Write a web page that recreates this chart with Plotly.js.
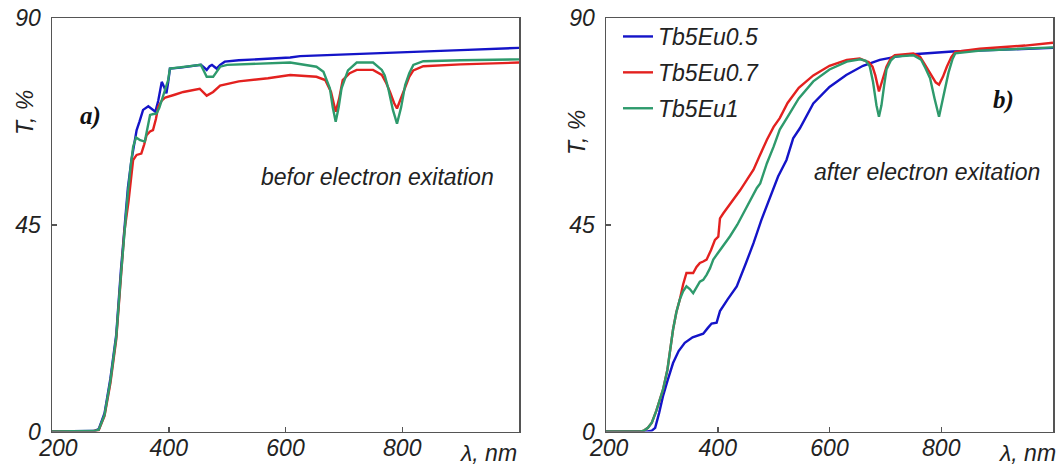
<!DOCTYPE html>
<html>
<head>
<meta charset="utf-8">
<script src="https://cdn.plot.ly/plotly-3.0.1.min.js"></script>
<style>html,body{margin:0;padding:0;background:#fff;}#chart{width:1059px;height:466px;}</style>
</head>
<body>
<div id="chart"></div>
<script>
// ---------- Data ----------
var seriesNames = ["Tb5Eu0.5", "Tb5Eu0.7", "Tb5Eu1"];
var xTicks = [200, 400, 600, 800];
var yTicks = [0, 45, 90];

// Panel a) before electron excitation
var aBlueX = [200,265,272,280,290,300,310,318,324,330,336,341,345,350,356,365,372,377,382,388,392,396,399,402,420,440,455,460,465,470,474,478,482,488,496,520,560,608,625,700,800,900,1000];
var aBlueY = [0,0,0.1,0.5,4,11.5,21,35,45,53,59,63,65.6,67.5,70,70.8,70.2,69.6,72,76.1,75,73.6,76,79,79.2,79.5,79.8,79.3,78.7,79.5,79.8,79.4,79,79.8,80.5,80.8,81.1,81.4,81.7,82.1,82.5,83,83.5];

var aRedX = [200,265,272,280,290,300,310,318,324,331,335,339,345,353,358,362,368,373,378,382,388,394,410,425,453,460,465,476,482,488,520,570,608,653,668,678,686,692,698,710,722,750,765,772,779,786,791,798,805,812,819,836,900,1000];
var aRedY = [0,0,0.1,0.3,3.4,10.5,20,33.5,43.5,50,55,59.1,60.2,60.5,62.5,64.5,65.3,65.6,68,70.7,72,72.7,73.3,73.9,74.6,73.8,73.1,73.9,74.5,75.3,76.2,76.9,77.6,77.2,76.5,73.9,69.6,72.5,76.5,78,78.7,78.7,77.6,76,73.9,71.5,70.3,72.5,75.1,77.2,78.6,79.5,79.9,80.3];

var aGreenX = [200,265,272,280,290,300,310,318,324,330,335,339,344,351,359,364,368,374,379,384,388,394,399,402,430,455,460,465,476,482,488,500,560,608,653,665,676,681,686,691,696,707,722,750,765,770,776,784,791,798,805,812,819,836,900,1000];
var aGreenY = [0,0,0.1,0.4,3.6,11,20.5,34,44,52,58,62,64,63.4,63.1,66,68.9,69.1,69.2,70.5,72.1,74,76.5,79,79.4,79.8,78.5,77.2,77.2,78.2,79.4,79.8,80,80.3,79.4,78.3,74.7,70.5,67.4,70.5,74.7,78.6,80.3,80.3,78.7,77.5,74.7,70,67,70.5,75.4,78,79.8,80.6,80.8,81];

// Panel b) after electron excitation
var bBlueX = [200,275,282,288,295,302,310,320,330,341,355,368,374,382,389,398,404,418,434,450,464,478,494,508,523,535,547,571,600,630,660,690,720,750,820,900,1000];
var bBlueY = [0,0,0.2,0.8,4,7.7,11,14.9,17.5,19.3,20.5,21.1,21.3,22.5,23.5,23.7,26.2,28.8,31.6,36.5,41,46,51.2,55.5,59.1,63.8,66,71.4,75,77.6,79.6,80.9,81.6,82.1,82.7,83.1,83.5];

var bRedX = [200,262,268,275,282,290,302,310,320,326,332,338,344,356,362,368,374,380,388,395,401,404,410,420,428,440,455,464,475,488,500,511,525,545,571,600,631,654,665,670,677,682,688.5,694,702,710,717,750,762,770,777,785,790,796,803,810,818,825,869,950,1000];
var bRedY = [0,0,0.2,0.8,1.9,4.5,9.1,13.5,22.2,26,28.7,32,34.5,34.5,35.8,36.7,37,37.4,39.5,41.7,42.4,46.4,47.5,49.2,50.4,52.5,55.3,57,60,63.5,66.3,68.2,71.5,74.8,77.5,79.6,80.9,81.2,80.6,80.4,79.4,77.5,74,76,79.4,81.3,81.9,82.3,81.6,80,78.5,77,76,75.5,77.2,79.4,81.5,82.6,83.3,84,84.6];

var bGreenX = [200,262,268,275,282,290,302,310,320,326,332,338,344,350,356,362,368,374,380,386,392,400,410,422,435,450,464,470,476,488,500,511,525,545,571,600,631,655,665,672,678,684,688.5,693,698,702,710,717,750,764,772,780,788,796,803,808,813,820,825,870,950,1000];
var bGreenY = [0,0,0.2,0.8,1.9,4.5,9.1,13.5,22.2,26,28.7,30.5,31.6,31,30.1,31.5,32.6,33,34.1,35.5,37.4,38.8,40.5,42.5,45,48.5,51.5,53,54,58.4,62,65.7,68.5,72.5,76.2,78.8,80.5,81,80.7,79.5,76,71,68.5,71,75.5,78.8,80.8,81.6,81.9,80.9,79,76.9,72.5,68.5,72.5,75.5,78.1,81,82.3,82.9,83.3,83.6];

// ---------- Style ----------
var colBlue = "#1414c8", colRed = "#e3211f", colGreen = "#2e9a6c";
var lw = 2.4;
var fontFam = "Liberation Sans, Arial, sans-serif";
var axisCol = "#555555";

function tr(x, y, col, name, xa, ya, show) {
  return {x: x, y: y, type: "scatter", mode: "lines", name: name,
    line: {color: col, width: lw, shape: "linear"}, xaxis: xa, yaxis: ya,
    showlegend: show, legendgroup: name, hoverinfo: "skip"};
}

var data = [
  tr(aBlueX, aBlueY, colBlue, seriesNames[0], "x", "y", false),
  tr(aRedX, aRedY, colRed, seriesNames[1], "x", "y", false),
  tr(aGreenX, aGreenY, colGreen, seriesNames[2], "x", "y", false),
  tr(bBlueX, bBlueY, colBlue, seriesNames[0], "x2", "y2", true),
  tr(bRedX, bRedY, colRed, seriesNames[1], "x2", "y2", true),
  tr(bGreenX, bGreenY, colGreen, seriesNames[2], "x2", "y2", true)
];

function xax(dom, anchor, pad) {
  return {domain: dom, anchor: anchor, range: [200, 1000], tickvals: xTicks,
    ticktext: xTicks.map(function (v, i) { return (i === 0 ? pad : "") + String(v); }),
    ticks: "inside", ticklen: 5, tickwidth: 1.5, tickcolor: axisCol,
    showline: true, linecolor: axisCol, linewidth: 1.5, mirror: true,
    showgrid: false, zeroline: false, ticklabelstandoff: -5,
    tickfont: {family: fontFam, size: 23, color: "#222", style: "italic"}};
}
function yax(dom, anchor) {
  return {domain: dom, anchor: anchor, range: [0, 90], tickvals: yTicks, ticktext: yTicks.map(String),
    ticks: "inside", ticklen: 5, tickwidth: 1.5, tickcolor: axisCol,
    showline: true, linecolor: axisCol, linewidth: 1.5, mirror: true,
    showgrid: false, zeroline: false, ticklabelstandoff: 5,
    tickfont: {family: fontFam, size: 23, color: "#222", style: "italic"}};
}

var ydom = [(466 - 431.5) / 466, (466 - 18) / 466];
var textFont = {family: fontFam, size: 23, color: "#222", style: "italic"};

var layout = {
  width: 1059, height: 466,
  margin: {l: 0, r: 0, t: 0, b: 0},
  paper_bgcolor: "#ffffff", plot_bgcolor: "#ffffff",
  xaxis: xax([52 / 1059, 519 / 1059], "y", "\u00a0\u00a0"),
  yaxis: yax(ydom, "x"),
  xaxis2: xax([606 / 1059, 1053 / 1059], "y2", "\u00a0"),
  yaxis2: yax(ydom, "x2"),
  showlegend: true,
  legend: {x: 618 / 1059, y: (466 - 15) / 466, xanchor: "left", yanchor: "top",
    bgcolor: "rgba(0,0,0,0)", borderwidth: 0, traceorder: "grouped", tracegroupgap: 3,
    font: {family: fontFam, size: 23, color: "#222", style: "italic"}},
  annotations: [
    {xref: "paper", yref: "paper", x: 25 / 1059, y: (466 - 113) / 466, text: "T, %", showarrow: false,
      textangle: -90, font: textFont, xanchor: "center", yanchor: "middle"},
    {xref: "paper", yref: "paper", x: 577 / 1059, y: (466 - 133) / 466, text: "T, %", showarrow: false,
      textangle: -90, font: textFont, xanchor: "center", yanchor: "middle"},
    {xref: "paper", yref: "paper", x: 519 / 1059, y: (466 - 453) / 466, text: "λ, nm", showarrow: false,
      font: textFont, xanchor: "right", yanchor: "middle"},
    {xref: "paper", yref: "paper", x: 1058 / 1059, y: (466 - 453) / 466, text: "λ, nm", showarrow: false,
      font: textFont, xanchor: "right", yanchor: "middle"},
    {xref: "paper", yref: "paper", x: 90 / 1059, y: (466 - 116) / 466, text: "a)", showarrow: false,
      font: {family: "Liberation Serif, Times New Roman, serif", size: 25, color: "#111", style: "italic", weight: "bold"},
      xanchor: "center", yanchor: "middle"},
    {xref: "paper", yref: "paper", x: 1003 / 1059, y: (466 - 100) / 466, text: "b)", showarrow: false,
      font: {family: "Liberation Serif, Times New Roman, serif", size: 25, color: "#111", style: "italic", weight: "bold"},
      xanchor: "center", yanchor: "middle"},
    {xref: "paper", yref: "paper", x: 377 / 1059, y: (466 - 177) / 466, text: "befor electron exitation", showarrow: false,
      font: textFont, xanchor: "center", yanchor: "middle"},
    {xref: "paper", yref: "paper", x: 927 / 1059, y: (466 - 172) / 466, text: "after electron exitation", showarrow: false,
      font: textFont, xanchor: "center", yanchor: "middle"}
  ]
};

Plotly.newPlot("chart", data, layout, {staticPlot: true, displayModeBar: false});
</script>
</body>
</html>
